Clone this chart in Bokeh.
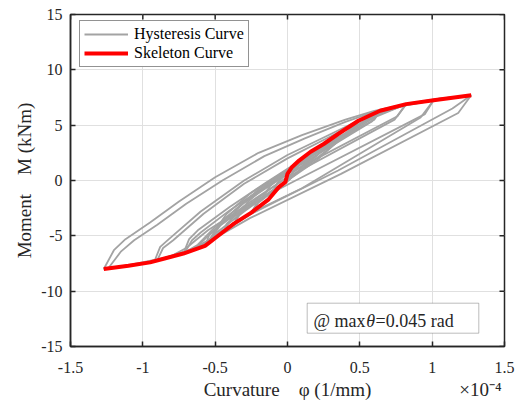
import math
from bokeh.plotting import figure
from bokeh.models import (Range1d, FixedTicker, LinearAxis, Legend, LegendItem,
                          Label, BoxAnnotation)
from bokeh.embed import file_html
from bokeh.resources import INLINE

# Curvature in units of 1e-4 (1/mm), moment in kNm
skeleton_phi = [-1.27, -1.1, -0.95, -0.85, -0.72, -0.57, -0.45, -0.37, -0.25, -0.13,
                -0.06, -0.015, 0.0, 0.03, 0.08, 0.16, 0.25, 0.35, 0.49, 0.64, 0.82, 1.01, 1.27]
skeleton_M = [-8.0, -7.7, -7.4, -7.05, -6.6, -5.9, -4.7, -3.9, -2.9, -1.7,
              -0.6, -0.15, 0.6, 1.2, 1.8, 2.6, 3.3, 4.2, 5.4, 6.3, 6.9, 7.25, 7.7]

loop1a_phi = [1.27, 1.18, 0.37, -0.26, -0.5, -0.65, -0.85, -1.1, -1.27, -1.20, -1.12, -0.95,
              -0.75, -0.5, -0.2, 0.1, 0.4, 0.6, 0.85, 1.05, 1.27]
loop1a_M = [7.7, 6.1, 0.6, -3.4, -5.2, -6.2, -7.05, -7.7, -8.0, -6.3, -5.3, -3.8,
            -1.9, 0.3, 2.5, 4.1, 5.5, 6.3, 7.0, 7.4, 7.7]
loop1b_phi = [1.27, 1.14, 0.35, -0.25, -0.48, -0.65, -0.85, -1.1, -1.24, -1.15, -1.06, -0.9,
              -0.7, -0.45, -0.16, 0.12, 0.4, 0.6, 0.85, 1.05, 1.27]
loop1b_M = [7.7, 6.5, 0.9, -3.0, -4.9, -6.15, -7.0, -7.65, -7.95, -6.4, -5.4, -4.0,
            -2.1, 0.0, 2.2, 3.8, 5.3, 6.2, 6.95, 7.4, 7.7]
loop2a_phi = [1.01, 0.92, 0.1, -0.2, -0.45, -0.6, -0.75, -0.92, -0.88, -0.82, -0.6, -0.3,
              0.0, 0.3, 0.55, 0.8, 1.01]
loop2a_M = [7.25, 5.7, -0.7, -2.6, -4.5, -5.9, -6.7, -7.3, -6.0, -5.3, -2.8, 0.0,
            2.3, 4.2, 5.8, 6.8, 7.25]
loop2b_phi = [1.01, 0.95, 0.1, -0.3, -0.55, -0.7, -0.8, -0.9, -0.86, -0.79, -0.58, -0.3,
              0.0, 0.3, 0.55, 0.8, 1.01]
loop2b_M = [7.25, 6.0, 0.3, -2.4, -4.5, -6.1, -6.8, -7.2, -6.1, -5.4, -3.0, -0.3,
            2.0, 4.0, 5.7, 6.75, 7.25]
loop3a_phi = [0.82, 0.74, 0.0, -0.3, -0.5, -0.62, -0.72, -0.68, -0.62, -0.4, -0.15, 0.1,
              0.35, 0.6, 0.82]
loop3a_M = [6.9, 5.5, 0.3, -2.3, -4.4, -5.9, -6.6, -5.3, -4.5, -2.4, -0.2, 1.9,
            3.9, 5.8, 6.9]
loop3b_phi = [0.82, 0.76, 0.0, -0.3, -0.5, -0.62, -0.71, -0.66, -0.6, -0.4, -0.15, 0.1,
              0.35, 0.6, 0.82]
loop3b_M = [6.9, 5.8, 0.6, -2.0, -4.2, -5.8, -6.5, -5.4, -4.7, -2.7, -0.5, 1.6,
            3.7, 5.7, 6.9]
loop4a_phi = [0.64, 0.58, 0.0, -0.25, -0.42, -0.5, -0.57, -0.54, -0.48, -0.3, -0.1, 0.1,
              0.3, 0.48, 0.64]
loop4a_M = [6.3, 5.3, 0.7, -1.4, -3.3, -4.7, -5.9, -4.9, -4.2, -2.5, -0.6, 1.3,
            3.2, 5.0, 6.3]
loop4b_phi = [0.64, 0.6, 0.0, -0.25, -0.42, -0.5, -0.56, -0.52, -0.46, -0.3, -0.1, 0.1,
              0.3, 0.48, 0.64]
loop4b_M = [6.3, 5.5, 1.0, -1.1, -3.0, -4.5, -5.8, -5.0, -4.4, -2.8, -0.9, 1.0,
            3.0, 4.9, 6.3]
loop5_phi = [0.49, 0.44, 0.0, -0.2, -0.35, -0.45, -0.42, -0.36, -0.2, 0.0, 0.2, 0.36, 0.49]
loop5_M = [5.4, 4.5, 1.0, -0.8, -2.6, -4.8, -3.9, -3.2, -1.7, 0.0, 1.8, 3.7, 5.4]
loop6_phi = [0.35, 0.31, 0.0, -0.15, -0.28, -0.37, -0.34, -0.28, -0.12, 0.05, 0.2, 0.35]
loop6_M = [4.2, 3.5, 0.9, -0.5, -2.0, -3.9, -3.1, -2.5, -1.1, 0.5, 2.2, 4.2]
loop7_phi = [0.21, 0.18, 0.0, -0.12, -0.25, -0.22, -0.15, 0.0, 0.1, 0.21]
loop7_M = [3.0, 2.4, 0.8, -0.5, -2.9, -2.2, -1.5, -0.1, 1.2, 3.0]
loop8_phi = [0.12, 0.1, 0.0, -0.07, -0.13, -0.11, -0.05, 0.02, 0.12]
loop8_M = [2.1, 1.6, 0.7, -0.2, -1.7, -1.2, -0.6, 0.4, 2.1]

x_ticks = [-1.5, -1, -0.5, 0, 0.5, 1, 1.5]
x_tick_labels = ["-1.5", "-1", "-0.5", "0", "0.5", "1", "1.5"]
y_ticks = [-15, -10, -5, 0, 5, 10, 15]
y_tick_labels = ["-15", "-10", "-5", "0", "5", "10", "15"]

x_title = "Curvature\u2002\u2002\u03c6 (1/mm)"
x_multiplier = "\u00d710\u207b\u2074"
y_title = "Moment\u2002\u2002M (kNm)"
note_parts = ["@ max", "\u03b8", "=0.045 rad"]

hyst_phi = [loop1a_phi, loop1b_phi, loop2a_phi, loop2b_phi, loop3a_phi, loop3b_phi,
            loop4a_phi, loop4b_phi, loop5_phi, loop6_phi, loop7_phi, loop8_phi]
hyst_M = [loop1a_M, loop1b_M, loop2a_M, loop2b_M, loop3a_M, loop3b_M,
          loop4a_M, loop4b_M, loop5_M, loop6_M, loop7_M, loop8_M]

FONT = "Liberation Serif"
AX = "#262626"

p = figure(width=517, height=402, x_range=Range1d(-1.5, 1.5), y_range=Range1d(-15, 15),
           output_backend="svg", toolbar_location=None,
           min_border_left=70, min_border_right=13, min_border_top=14, min_border_bottom=56)
p.background_fill_color = "white"
p.border_fill_color = "white"
p.outline_line_color = AX
p.outline_line_width = 1.5

bottom_axis = p.below[0]
left_axis = p.left[0]

xt = FixedTicker(ticks=x_ticks, minor_ticks=[])
yt = FixedTicker(ticks=y_ticks, minor_ticks=[])
bottom_axis.ticker = xt
left_axis.ticker = yt
bottom_axis.major_label_overrides = {t: s for t, s in zip(x_ticks, x_tick_labels)}
left_axis.major_label_overrides = {t: s for t, s in zip(y_ticks, y_tick_labels)}

for ax in [bottom_axis, left_axis]:
    ax.axis_line_color = AX
    ax.axis_line_width = 1.5
    ax.major_tick_in = 5
    ax.major_tick_out = 0
    ax.minor_tick_in = 0
    ax.minor_tick_out = 0
    ax.major_tick_line_color = AX
    ax.major_tick_line_width = 1.5
    ax.major_label_text_font = FONT
    ax.major_label_text_font_size = "16px"
    ax.major_label_text_color = AX
bottom_axis.major_label_standoff = 15
left_axis.major_label_standoff = 8

left_axis.axis_label = y_title
left_axis.axis_label_text_font = FONT
left_axis.axis_label_text_font_size = "19px"
left_axis.axis_label_text_font_style = "normal"
left_axis.axis_label_text_color = AX
left_axis.axis_label_standoff = 3

# second bottom axis carrying the x title and the exponent on one row
title_axis = LinearAxis(ticker=FixedTicker(ticks=[0.0, 1.334], minor_ticks=[]))
title_axis.major_label_overrides = {0.0: x_title, 1.334: x_multiplier}
title_axis.axis_line_color = None
title_axis.major_tick_in = 0
title_axis.major_tick_out = 0
title_axis.minor_tick_in = 0
title_axis.minor_tick_out = 0
title_axis.major_label_standoff = 3
title_axis.major_label_text_font = FONT
title_axis.major_label_text_font_size = "19px"
title_axis.major_label_text_color = AX
p.add_layout(title_axis, "below")

p.xgrid.ticker = xt
p.ygrid.ticker = yt
p.grid.grid_line_color = "#e0e0e0"
p.grid.grid_line_width = 1

# inward ticks on the top and right edges of the box
p.scatter(x=x_ticks, y=[y_ticks[-1]] * len(x_ticks), marker="dash", size=10,
          angle=math.pi / 2, line_color=AX, line_width=1.5)
p.scatter(x=[x_ticks[-1]] * len(y_ticks), y=y_ticks, marker="dash", size=10,
          line_color=AX, line_width=1.5)

r_h = p.multi_line(xs=hyst_phi, ys=hyst_M, line_color="#a3a3a3", line_width=1.8)
r_s = p.line(skeleton_phi, skeleton_M, line_color="#ff0000", line_width=4)

legend = Legend(items=[LegendItem(label="Hysteresis Curve", renderers=[r_h]),
                       LegendItem(label="Skeleton Curve", renderers=[r_s])],
                location=(9, 279))
legend.label_text_font = FONT
legend.label_text_font_size = "16px"
legend.label_text_color = "black"
legend.border_line_color = AX
legend.border_line_width = 1
legend.background_fill_alpha = 1
legend.padding = 4
legend.spacing = 1
legend.glyph_width = 44
legend.glyph_height = 16
legend.label_height = 16
legend.label_standoff = 6
legend.margin = 0
p.add_layout(legend)

# annotation box (inside the frame)
p.add_layout(BoxAnnotation(left=236.7, right=408.3, bottom=13.3, top=43.3,
                           left_units="screen", right_units="screen",
                           bottom_units="screen", top_units="screen",
                           fill_color="white", fill_alpha=1, line_color=AX, line_width=1))
for txt, xpos, style in zip(note_parts, [243, 295.7, 305], ["normal", "italic", "normal"]):
    p.add_layout(Label(x=xpos, y=26, x_units="screen", y_units="screen", text=txt,
                       text_font=FONT, text_font_size="18px", text_font_style=style,
                       text_color=AX, text_align="left", text_baseline="alphabetic"))

open("out.html", "w").write(file_html(p, INLINE))
